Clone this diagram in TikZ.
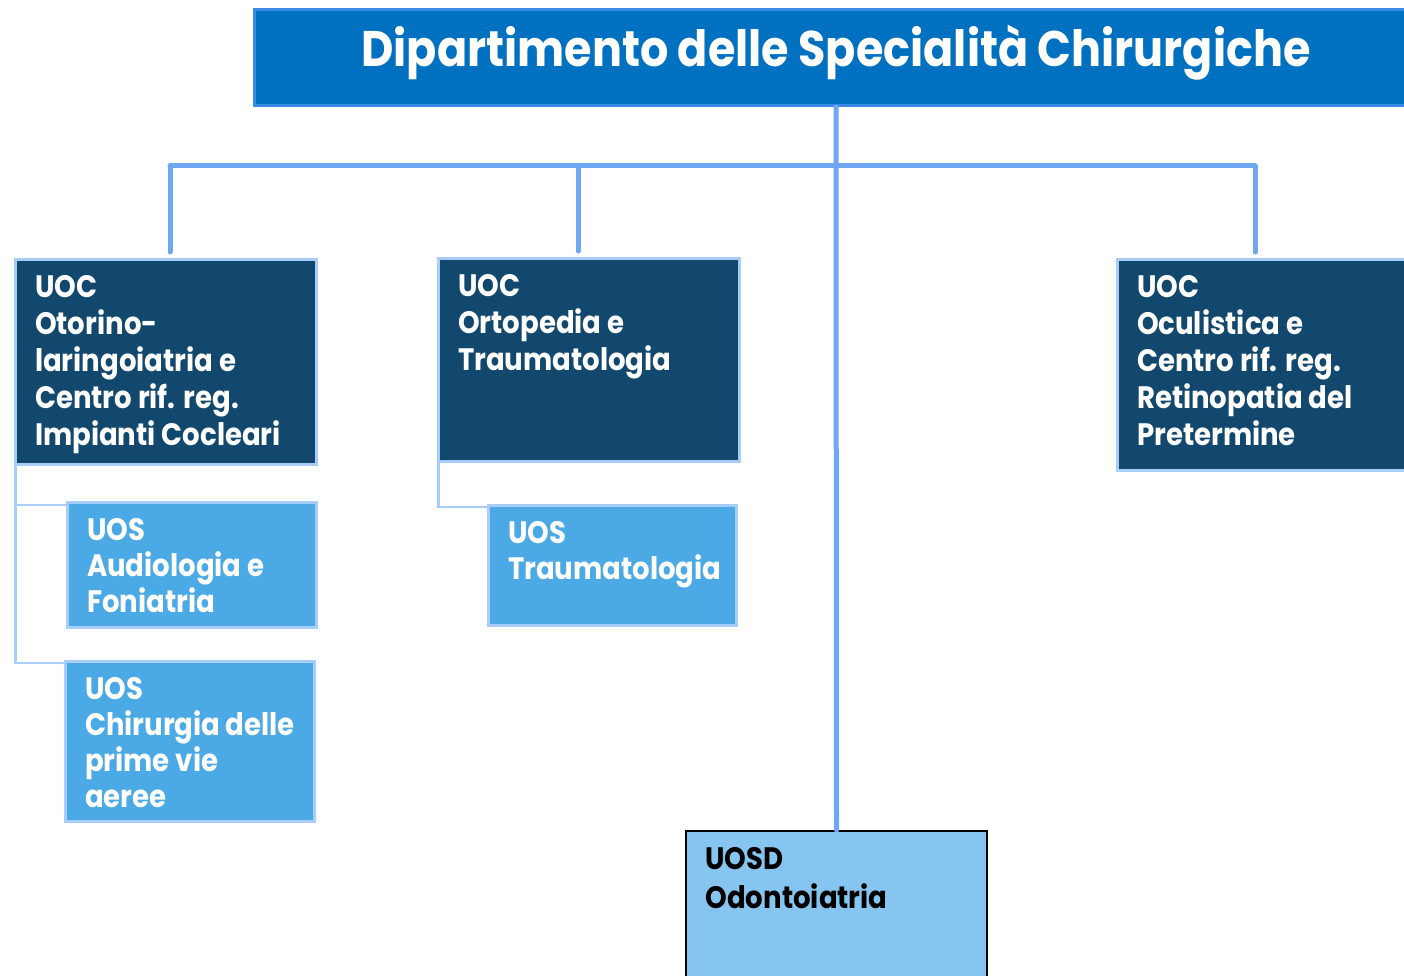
\documentclass[tikz,border=0pt]{standalone}
\usepackage{fontspec}
\setmainfont{Poppins}[FakeStretch=0.89]
\definecolor{deptfill}{HTML}{0070C0}
\definecolor{deptline}{HTML}{3A8AE8}
\definecolor{uocfill}{HTML}{12486E}
\definecolor{uocline}{HTML}{A8CDF8}
\definecolor{uosfill}{HTML}{4BA9E6}
\definecolor{uosdfill}{HTML}{86C5EF}
\definecolor{trunkline}{HTML}{6FA8F0}
\tikzset{
  deptbox/.style={draw=deptline,fill=deptfill,line width=3pt,text=white,inner sep=0pt,
    font=\fontsize{50}{50}\selectfont\bfseries,text height=38pt,text depth=19pt},
  uocbox/.style={draw=uocline,fill=uocfill,line width=3pt,text=white,anchor=north west,
    inner xsep=19.5pt,inner ysep=16pt,font=\fontsize{31}{37}\selectfont\bfseries},
  uosbox/.style={uocbox,fill=uosfill,font=\fontsize{31}{36}\selectfont\bfseries},
  uosdbox/.style={uocbox,draw=black,line width=2pt,fill=uosdfill,text=black,
    font=\fontsize{31}{39}\selectfont\bfseries},
  trunk/.style={draw=trunkline,line width=5pt,line cap=round},
  sublink/.style={draw=uocline,line width=2.5pt}
}
\begin{document}
\begin{tikzpicture}[x=1pt,y=-1pt]
  \clip (0,0) rectangle (1404,976);
  % department header
  \node[deptbox,minimum width=1163pt,minimum height=96pt] (dept) at (836,57.5)
    {Dipartimento delle Specialità Chirurgiche};
  % complex units
  \node[uocbox] (otorino) at (14,258)
    {\parbox[t][173pt][t]{262pt}{\raggedright UOC\\Otorino-\\laringoiatria e\\Centro rif. reg.\\Impianti Cocleari}};
  \node[uocbox] (ortopedia) at (437,257)
    {\parbox[t][171pt][t]{262pt}{\raggedright UOC\\Ortopedia e\\Traumatologia}};
  \node[uocbox] (oculistica) at (1116,258)
    {\parbox[t][179pt][t]{262pt}{\raggedright UOC\\Oculistica e\\Centro rif. reg.\\Retinopatia del\\Pretermine}};
  % simple units
  \node[uosbox] (audio) at (66,501)
    {\parbox[t][93pt][t]{210pt}{\raggedright UOS\\Audiologia e\\Foniatria}};
  \node[uosbox] (vie) at (64,660)
    {\parbox[t][128pt][t]{210pt}{\raggedright UOS\\Chirurgia delle\\prime vie\\aeree}};
  \node[uosbox] (trauma) at (487,504)
    {\parbox[t][88pt][t]{209pt}{\raggedright UOS\\Traumatologia}};
  \node[uosdbox] (odonto) at (685,830)
    {\parbox[t][138pt][t]{262pt}{\raggedright UOSD\\Odontoiatria}};
  % connectors
  \coordinate (busL) at (170,166);
  \coordinate (busM) at (578,166);
  \coordinate (busR) at (1255,166);
  \draw[trunk] (dept.south) -- (odonto.north);
  \draw[trunk] (busL) -- (busR);
  \foreach \drop/\unit in {busL/otorino,busM/ortopedia,busR/oculistica}
    \draw[trunk,shorten >=6pt] (\drop) -- (\drop |- \unit.north);
  \draw[sublink] ([xshift=1.5pt]otorino.south west) |- ([yshift=-4pt]audio.north west);
  \draw[sublink] ([xshift=1.5pt]otorino.south west) |- ([yshift=-3pt]vie.north west);
  \draw[sublink] ([xshift=1.5pt]ortopedia.south west) |- ([yshift=-3pt]trauma.north west);
\end{tikzpicture}
\end{document}
